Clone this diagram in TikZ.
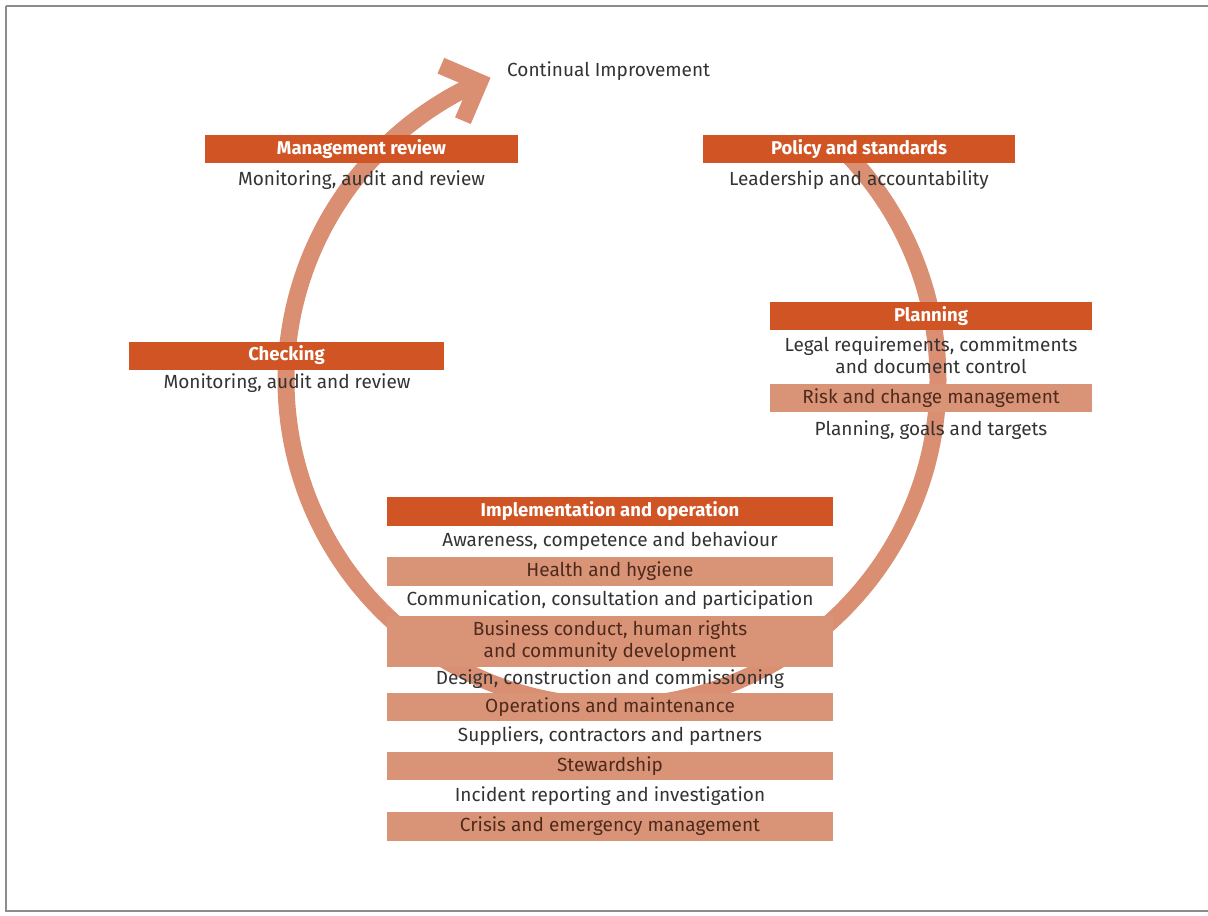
\documentclass[tikz,border=0pt]{standalone}
\usepackage{fontspec}
\usetikzlibrary{calc}
\setmainfont{Fira Sans}
\definecolor{darkor}{HTML}{D05424}
\definecolor{lightor}{HTML}{D99478}
\definecolor{ringcol}{HTML}{DA8E72}
\definecolor{txtgray}{HTML}{333333}
\definecolor{txtbrown}{HTML}{4E2A1C}
\definecolor{framegray}{HTML}{8C8C8C}
\tikzset{
  darkbox/.style={rectangle, fill=darkor, text=white, inner sep=0pt, minimum height=28pt,
    font=\fontsize{18.5}{22}\selectfont\bfseries},
  lightbox/.style={rectangle, fill=lightor, text=txtbrown, inner sep=0pt, minimum height=28pt,
    font=\fontsize{19}{22}\selectfont, align=center},
  plain/.style={inner sep=0pt, text=txtgray, font=\fontsize{19}{22}\selectfont, align=center},
  ring/.style={draw=ringcol, line width=17pt}
}
\begin{document}
\begin{tikzpicture}[x=1pt,y=-1pt]
\useasboundingbox (0,0) rectangle (1208,916);
\draw[framegray, line width=2.5pt] (6,6) -- (6,911) -- (1214,911);
\draw[framegray, line width=2.5pt] (6,6) -- (1214,6);
% ring
\coordinate (C) at (612,380);
\draw[ring] ([shift={(-45:326)}]C) arc[start angle=-45, end angle=246, radius=326] coordinate (tip);
\coordinate (armA) at ($(tip)+(-38.5,-16.5)$);
\coordinate (armB) at ($(tip)+(-16.5,38.5)$);
\draw[ringcol, line width=17pt, line join=miter, miter limit=3] (armA) -- (tip) -- (armB);
% top
\node[plain, anchor=west] (ci) at (507,71) {Continual Improvement};
\node[darkbox, minimum width=313pt] (mr) at (361.5,149) {Management review};
\node[plain] (mrt) at (361.5,180) {Monitoring, audit and review};
\node[darkbox, minimum width=312pt] (ps) at (859,149) {Policy and standards};
\node[plain] (pst) at (859,180) {Leadership and accountability};
% planning
\node[darkbox, minimum width=322pt] (pl) at (931,316) {Planning};
\node[plain] (plt) at (931,355) {Legal requirements, commitments\\and document control};
\node[lightbox, minimum width=322pt] (rc) at (931,398) {Risk and change management};
\node[plain] (pg) at (931,430) {Planning, goals and targets};
% checking
\node[darkbox, minimum width=315pt] (ch) at (286.5,355.5) {Checking};
\node[plain] (cht) at (287,383) {Monitoring, audit and review};
% implementation
\node[darkbox, minimum width=446pt, minimum height=29pt] (io) at (610,511.5) {Implementation and operation};
\node[plain] (aw) at (610,541) {Awareness, competence and behaviour};
\node[lightbox, minimum width=446pt, minimum height=29pt] (hh) at (610,571.5) {Health and hygiene};
\node[plain] (cm) at (610,600) {Communication, consultation and participation};
\node[lightbox, minimum width=446pt, minimum height=51pt] (bc) at (610,641.5) {Business conduct, human rights\\and community development};
\node[plain] (dc) at (610,679) {Design, construction and commissioning};
\node[lightbox, minimum width=446pt, minimum height=28pt] (om) at (610,707) {Operations and maintenance};
\node[plain] (sc) at (610,736) {Suppliers, contractors and partners};
\node[lightbox, minimum width=446pt, minimum height=28pt] (sw) at (610,766) {Stewardship};
\node[plain] (ir) at (610,796) {Incident reporting and investigation};
\node[lightbox, minimum width=446pt, minimum height=29pt] (ce) at (610,826.5) {Crisis and emergency management};
\end{tikzpicture}
\end{document}
